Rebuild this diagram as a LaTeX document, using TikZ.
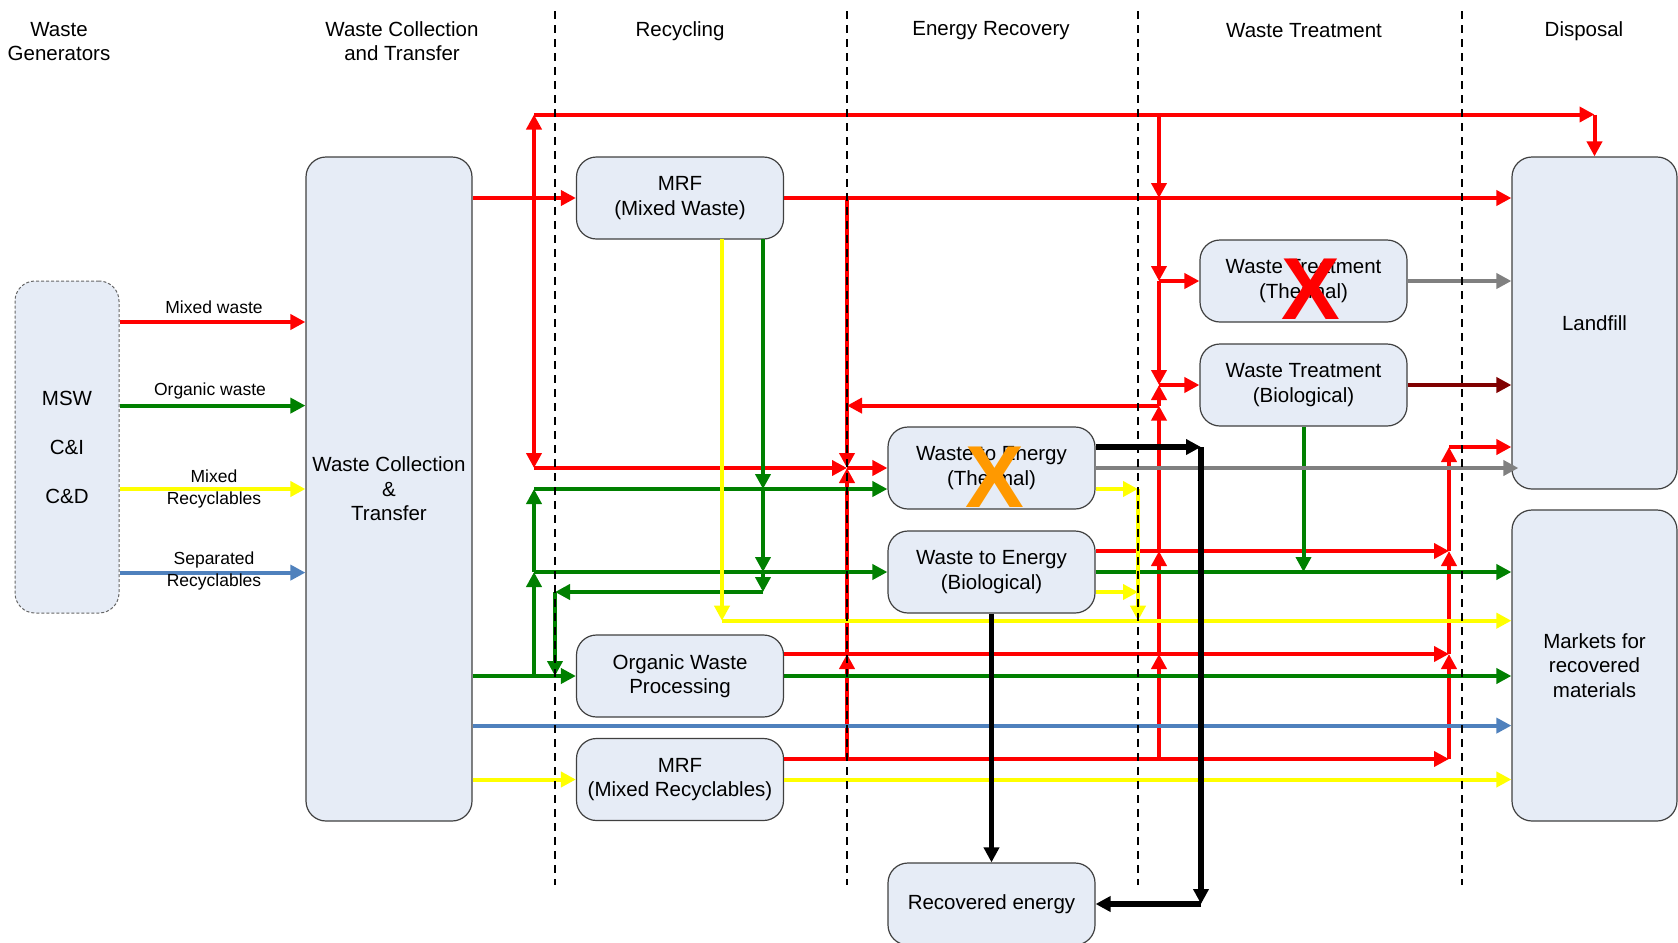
\documentclass[tikz,border=0pt]{standalone}
\usepackage{fontspec}
\setmainfont{Liberation Sans}
\usetikzlibrary{arrows.meta,calc,positioning}
\definecolor{boxfill}{RGB}{230,236,246}
\definecolor{mwred}{RGB}{255,0,0}
\definecolor{owgreen}{RGB}{0,128,0}
\definecolor{mryellow}{RGB}{255,255,0}
\definecolor{srblue}{RGB}{79,129,189}
\definecolor{resgray}{RGB}{128,128,128}
\definecolor{biodark}{RGB}{128,0,0}
\definecolor{xorange}{RGB}{255,153,0}
\tikzset{>={Triangle[length=7.5pt,width=7.5pt]}}
\tikzset{font=\fontsize{10.25pt}{12.3pt}\selectfont}
\tikzset{
  box/.style={draw=black!75, line width=0.6pt, fill=boxfill, rounded corners=10pt,
    align=center, inner sep=0pt, minimum width=103.5pt, minimum height=41pt},
  colhead/.style={align=center, inner sep=0pt},
  flowlbl/.style={font=\fontsize{8.75pt}{10.7pt}\selectfont, align=center, inner sep=0pt},
  xmark/.style={font=\fontsize{44pt}{44pt}\selectfont\bfseries, inner sep=0pt},
  mixed/.style={line width=2pt, mwred},
  organic/.style={line width=2pt, owgreen},
  recyc/.style={line width=2pt, mryellow},
  sepd/.style={line width=2pt, srblue},
  resid/.style={line width=2pt, resgray},
  biores/.style={line width=2pt, biodark},
  energy/.style={line width=2.6pt, black},
  divider/.style={line width=0.8pt, dash pattern=on 4pt off 3pt}
}

\begin{document}
\begin{tikzpicture}[x=0.5pt,y=-0.5pt]
\useasboundingbox (0,0) rectangle (1678,943);

% column headings
\node[colhead] (hgen) at (59,41.5) {Waste\\Generators};
\node[colhead] (hcol) at (402,41) {Waste Collection\\and Transfer};
\node[colhead] (hrec) at (680,31) {Recycling};
\node[colhead] (hene) at (991,31) {Energy Recovery};
\node[colhead] (htre) at (1304,31) {Waste Treatment};
\node[colhead] (hdis) at (1584,31) {Disposal};

% boxes
\node[box, draw=black!60, line width=0.5pt, dash pattern=on 1.5pt off 1pt,
  minimum width=52pt, minimum height=166pt] (msw) at (67,447)
  {MSW\\[12.2pt]C\&I\\[12.2pt]C\&D};
\node[box, minimum width=83pt, minimum height=332pt] (wct) at (389,489)
  {Waste Collection\\\&\\Transfer};
\node[box] (mrfmw) at (680,198) {MRF\\(Mixed Waste)};
\node[box] (owp) at (680,676) {Organic Waste\\Processing};
\node[box] (mrfmr) at (680,779.5) {MRF\\(Mixed Recyclables)};
\node[box] (wteth) at (991.5,468) {Waste to Energy\\(Thermal)};
\node[box] (wtebio) at (991.5,572) {Waste to Energy\\(Biological)};
\node[box] (receng) at (991.5,904) {Recovered energy};
\node[box] (wtth) at (1303.5,281) {Waste Treatment\\(Thermal)};
\node[box] (wtbio) at (1303.5,385) {Waste Treatment\\(Biological)};
\node[box, minimum width=82.5pt, minimum height=166pt] (landfill) at (1594.5,323) {Landfill};
\node[box, minimum width=82.5pt, minimum height=155.5pt] (markets) at (1594.5,665.5)
  {Markets for\\recovered\\materials};

% junctions
\foreach \n/\x/\y in {jA/534/198, jB/534/114.5, jC/1594.5/114.5, jD/534/468, jE/847/468,
    jF/847/198, jG/1159/114.5, jH/1159/198, jI/1159/281, jJ/1159/385, jK/1159/405.6,
    jL/847/405.6, jM/847/759, jN/847/654, jO/1159/759, jP/1159/654, jQ/1159/551,
    jR/1449/759, jS/1449/654, jT/1449/551, jU/1449/447,
    gA/534/676, gB/534/572, gC/534/489, gD/763/239, gE/763/489, gF/763/572,
    gG/763/592, gH/555/592, gI/555/676, gJ/1303.5/572,
    yA/722/239, yB/722/620.7, yC/1138/489, yD/1138/592, yE/1138/620.7,
    kA/1201/447, kB/1201/904}
  \coordinate (\n) at (\x,\y);

% generators to collection
\draw[mixed,->] (msw.east |- 0,322) -- (wct.west |- 0,322);
\draw[organic,->] (msw.east |- 0,405.6) -- (wct.west |- 0,405.6);
\draw[recyc,->] (msw.east |- 0,489) -- (wct.west |- 0,489);
\draw[sepd,->] (msw.east |- 0,572.6) -- (wct.west |- 0,572.6);
\node[flowlbl] (lmw) at (214,307) {Mixed waste};
\node[flowlbl] (low) at (210,391) {Organic waste};
\node[flowlbl] (lmr) at (214,489) {Mixed\\Recyclables};
\node[flowlbl] (lsr) at (214,571) {Separated\\Recyclables};

% mixed waste
\draw[mixed,->] (wct.east |- mrfmw) -- (mrfmw.west);
\draw[mixed,->] (mrfmw.east) -- (landfill.west |- mrfmw.east);
\foreach \a/\b in {jA/jB, jA/jD, jB/jC, jD/jE, jF/jE, jG/jH, jH/jI, jI/jJ, jM/jN, jN/jE,
    jO/jP, jP/jQ, jQ/jK, jK/jJ, jK/jL, jR/jS, jS/jT, jT/jU}
  \draw[mixed,->] (\a) -- (\b);
\draw[mixed,->] (jC) -- (landfill.north);
\draw[mixed,->] (jE) -- (wteth.west);
\draw[mixed,->] (jI) -- (wtth.west);
\draw[mixed,->] (jJ) -- (wtbio.west);
\draw[mixed,->] (owp.east |- jN) -- (jS);
\draw[mixed,->] (mrfmr.east |- jM) -- (jR);
\draw[mixed,->] (wtebio.east |- jT) -- (jT);
\draw[mixed,->] (jU) -- (landfill.west |- jU);

% organic waste
\draw[organic,->] (wct.east |- owp) -- (owp.west);
\foreach \a/\b in {gA/gB, gB/gC, gD/gE, gE/gF, gF/gG, gG/gH, gH/gI}
  \draw[organic,->] (\a) -- (\b);
\draw[organic,->] (gB) -- (wtebio.west);
\draw[organic,->] (gC) -- (wteth.west |- gC);
\draw[organic,->] (owp.east) -- (markets.west |- owp.east);
\draw[organic,->] (wtebio.east) -- (markets.west |- wtebio.east);
\draw[organic,->] (wtbio.south) -- (gJ);

% recyclables
\draw[recyc,->] (wct.east |- mrfmr) -- (mrfmr.west);
\draw[recyc,->] (mrfmr.east) -- (markets.west |- mrfmr.east);
\draw[recyc,->] (yA) -- (yB);
\draw[recyc,->] (yB) -- (markets.west |- yB);
\draw[recyc,->] (wteth.east |- yC) -- (yC);
\draw[recyc,->] (yC) -- (yE);
\draw[recyc,->] (wtebio.east |- yD) -- (yD);
\draw[sepd,->] (wct.east |- 0,725.6) -- (markets.west |- 0,725.6);

% residues and energy
\draw[resid,->] (wtth.east) -- (landfill.west |- wtth.east);
\draw[resid,->] (wteth.east) -- ($(landfill.west |- wteth.east)+(7,0)$);
\draw[biores,->] (wtbio.east) -- (landfill.west |- wtbio.east);
\draw[energy,->] (wteth.east |- kA) -- (kA);
\draw[energy,->] (kA) -- (kB);
\draw[energy,->] (kB) -- (receng.east);
\draw[energy,->] (wtebio.south) -- (receng.north);

% column dividers
\foreach \x in {555,847,1138,1462}
  \draw[divider] (\x,11) -- (\x,885);

% crossed out
\node[xmark, text=mwred] (xwtth) at (1311,289) {X};
\node[xmark, text=xorange] (xwteth) at (995,477) {X};
\end{tikzpicture}
\end{document}
